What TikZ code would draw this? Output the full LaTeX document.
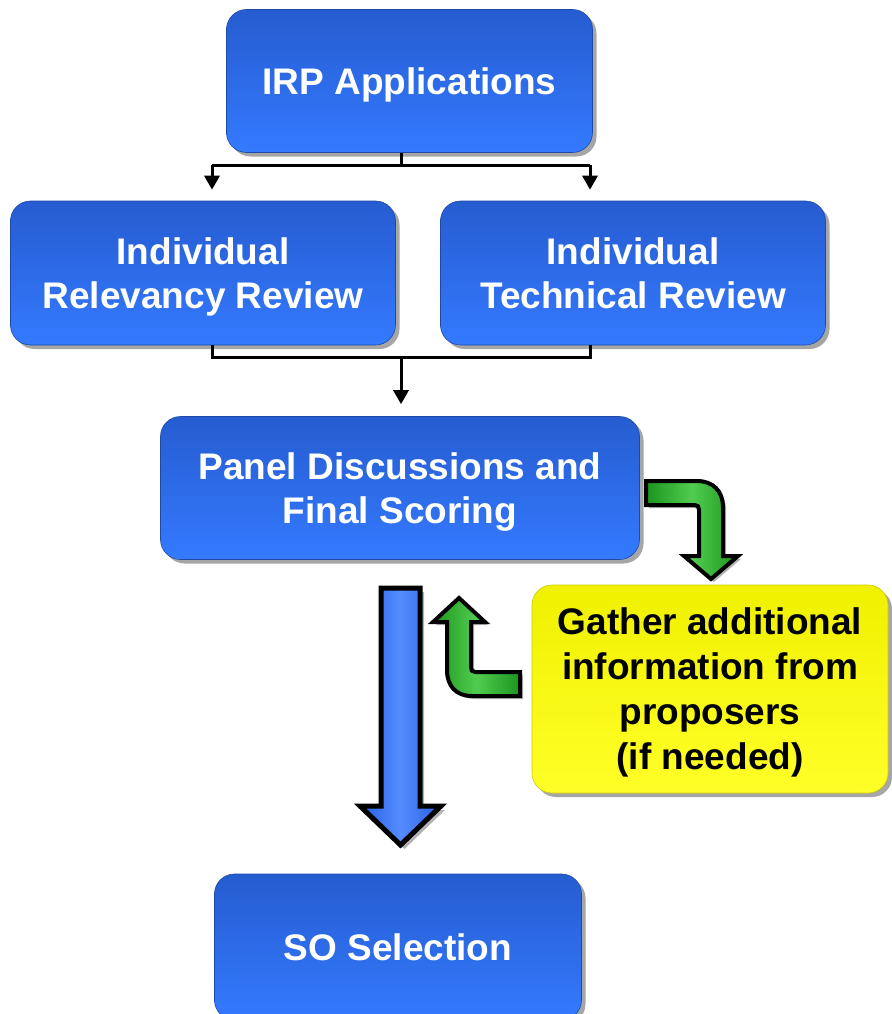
\documentclass[tikz,border=0pt]{standalone}
\usepackage{fontspec}
\setmainfont{Liberation Sans}
\usetikzlibrary{arrows.meta,shadows,calc}
\definecolor{bluetop}{RGB}{38,92,208}
\definecolor{bluebot}{RGB}{52,122,255}
\definecolor{yeltop}{RGB}{240,240,0}
\definecolor{yelbot}{RGB}{255,255,40}
\definecolor{grn}{RGB}{28,148,28}
\definecolor{grnlite}{RGB}{80,205,80}
\definecolor{arrblue}{RGB}{38,95,225}
\definecolor{arrlite}{RGB}{85,140,255}
\tikzset{
  bluebox/.style={rounded corners=20pt, top color=bluetop, bottom color=bluebot,
    draw=bluetop!80!black, line width=0.6pt, text depth=0pt,
    drop shadow={shadow xshift=4pt, shadow yshift=-4pt, opacity=0.35, fill=black},
    text=white, align=center, font=\bfseries\fontsize{37}{44}\selectfont},
  yelbox/.style={rounded corners=20pt, top color=yeltop, bottom color=yelbot,
    draw=yeltop!85!black, line width=0.6pt, text depth=0pt,
    drop shadow={shadow xshift=4pt, shadow yshift=-4pt, opacity=0.35, fill=black},
    text=black, align=center, font=\bfseries\fontsize{37}{45}\selectfont},
  conn/.style={line width=3pt, draw=black},
  connarrow/.style={conn, -{Triangle[width=15pt,length=14pt]}},
  greenarrow/.style={draw=black, line width=4pt, line join=miter, left color=grn, right color=grn, middle color=grnlite,
    drop shadow={shadow xshift=3pt, shadow yshift=-3pt, opacity=0.3, fill=black}},
  bigarrow/.style={draw=black, line width=5pt, line join=miter, left color=arrblue, right color=arrblue, middle color=arrlite,
    drop shadow={shadow xshift=4pt, shadow yshift=-4pt, opacity=0.3, fill=black}}
}
\begin{document}
\begin{tikzpicture}[x=1pt, y=-1pt]
\useasboundingbox (0,0) rectangle (891,1014);

% boxes
\node[bluebox, minimum width=366pt, minimum height=143pt] (irp) at (409.5,81) {IRP Applications};
\node[bluebox, minimum width=385pt, minimum height=144pt] (rel) at (203,273) {Individual\\Relevancy Review};
\node[bluebox, minimum width=385pt, minimum height=144pt] (tech) at (633,273) {Individual\\Technical Review};
\node[bluebox, minimum width=479pt, minimum height=143pt] (panel) at (400,488) {Panel Discussions and\\Final Scoring};
\node[yelbox, minimum width=356pt, minimum height=208pt] (gather) at (710,689) {Gather additional\\information from\\proposers\\(if needed)};
\node[bluebox, minimum width=367pt, minimum height=146pt] (so) at (398,947) {SO Selection};

% connectors top
\coordinate (t0) at (401,165);
\coordinate (tl) at (212,165);
\coordinate (tr) at (590,165);
\draw[conn] (t0 |- irp.south) -- (t0);
\draw[conn] (tl) -- (tr);
\draw[connarrow, shorten >=11pt] (tl) -- (tl |- rel.north);
\draw[connarrow, shorten >=11pt] (tr) -- (tr |- tech.north);

% connectors middle
\coordinate (bl) at (212,357);
\coordinate (br) at (590,357);
\coordinate (b0) at (401,357);
\draw[conn, line join=miter] (bl |- rel.south) -- (bl) -- (br) -- (br |- tech.south);
\draw[connarrow, shorten >=12pt] (b0) -- (b0 |- panel.north);

% green arrow from panel to gather
\path[greenarrow] (646,481) -- (697,481) .. controls (713,481) and (723,491) .. (723,507)
  -- (723,556) -- (738,556) -- (711,579) -- (684,556) -- (699,556) -- (699,510)
  .. controls (699,507) and (698,505) .. (695,505) -- (646,505) -- cycle;

% green arrow from gather to panel
\path[greenarrow] (520,696) -- (472,696) .. controls (456,696) and (447,686) .. (447,670)
  -- (447,622) -- (433,622) -- (459,598) -- (485,622) -- (471,622) -- (471,667)
  .. controls (471,670) and (472,672) .. (475,672) -- (520,672) -- cycle;

% big blue arrow panel -> SO
\path[bigarrow] (381,588) -- (420,588) -- (420,806) -- (441,806) -- (400.5,845)
  -- (360,806) -- (381,806) -- cycle;
\end{tikzpicture}
\end{document}
